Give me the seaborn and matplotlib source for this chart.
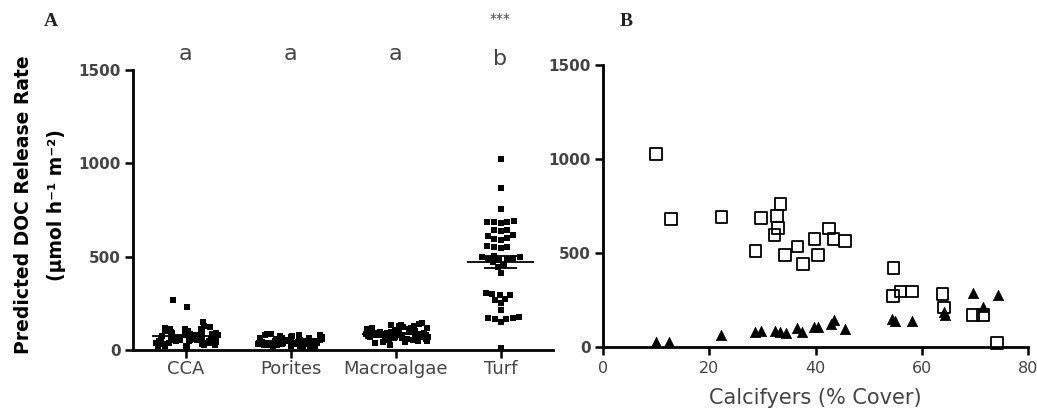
import numpy as np
import pandas as pd
import matplotlib
matplotlib.use("Agg")
import matplotlib.pyplot as plt
import matplotlib.transforms as mtransforms
import seaborn as sns

# ---------------- data ----------------
categories = ["CCA", "Porites", "Macroalgae", "Turf"]
sig_letters = ["a", "a", "a", "b"]

cca = [270, 230, 150, 128, 122, 118, 115, 112, 110, 106, 104, 100, 98, 96, 94,
       92, 90, 88, 86, 84, 82, 80, 78, 76, 74, 72, 70, 68, 66, 65, 64, 62, 60,
       58, 57, 56, 55, 54, 52, 51, 50, 48, 47, 46, 45, 44, 42, 40, 38, 36, 35,
       34, 32, 30, 28, 26, 24, 22, 20, 15]
porites = [88, 85, 82, 80, 78, 76, 74, 72, 70, 68, 66, 65, 64, 62, 60, 59, 58,
           56, 55, 54, 53, 52, 51, 50, 49, 48, 47, 46, 45, 44, 43, 42, 41, 40,
           39, 38, 37, 36, 35, 34, 33, 32, 31, 30, 29, 28, 27, 26, 25, 24, 22,
           20, 18, 15, 10]
macroalgae = [142, 138, 135, 132, 130, 128, 125, 122, 120, 118, 116, 114, 112,
              110, 108, 106, 105, 104, 102, 100, 98, 97, 96, 95, 94, 92, 91, 90,
              89, 88, 87, 86, 85, 84, 83, 82, 81, 80, 79, 78, 77, 76, 75, 74, 73,
              72, 71, 70, 69, 68, 67, 66, 65, 64, 62, 60, 58, 56, 54, 52, 50, 48,
              45, 42, 38, 25]
turf = [1025, 870, 755,
        690, 688, 686, 684, 682,
        645, 643, 640,
        615, 610, 600, 595, 590,
        555, 552, 550, 548,
        505, 500, 497, 494, 490, 487, 484,
        470, 458, 445,
        415,
        305, 300, 296, 294,
        275, 270,
        250, 212,
        175, 172, 170, 168, 166,
        152, 10]

cover_turf = [10.0, 12.8, 22.3, 28.7, 29.8, 32.3, 32.7, 33.0, 33.4, 34.3, 36.6,
              37.7, 39.8, 40.4, 42.6, 43.4, 45.6, 54.7, 54.6, 56.0, 58.1, 63.9,
              64.2, 69.6, 71.6, 74.1]
doc_turf = [1025, 680, 690, 510, 685, 595, 695, 635, 760, 490, 535, 440, 575,
            490, 630, 575, 565, 420, 270, 295, 295, 280, 210, 170, 170, 20]
cover_calc = [10.0, 12.4, 22.3, 28.6, 29.7, 32.4, 33.3, 34.5, 36.6, 37.5, 39.8,
              40.5, 42.9, 43.4, 45.5, 54.4, 55.0, 58.1, 64.1, 64.4, 69.6, 71.6,
              74.3]
doc_calc = [25, 25, 65, 78, 85, 85, 78, 72, 100, 78, 108, 108, 120, 145, 95,
            150, 140, 140, 185, 170, 285, 215, 275]

# ---------------- style ----------------
sns.set_theme(style="ticks")
plt.rcParams['font.family'] = ['DejaVu Sans']
GREY = "#444444"

W, H = 1037, 411
fig = plt.figure(figsize=(W / 100, H / 100), dpi=100)


def px_axes(left, right, top, bottom):
    return fig.add_axes([left / W, 1 - bottom / H, (right - left) / W, (bottom - top) / H])


axA = px_axes(133, 553, 70, 350)
axB = px_axes(603, 1028, 65, 347)

# ---------------- panel A ----------------
groups = [cca, porites, macroalgae, turf]
dfA = pd.DataFrame({
    "group": np.repeat(categories, [len(g) for g in groups]),
    "rate": np.concatenate(groups),
})

# pick a reproducible jitter state in which the few high CCA points sit near
# the centre of the column (as in the GraphPad original)
JIT = 0.31
seed = 0
for s in range(20000):
    rs = np.random.RandomState(s)
    u = rs.uniform(-JIT, JIT, size=len(cca))
    if abs(u[0] + 0.08) < 0.04 and abs(u[1]) < 0.04 and abs(u[2] - 0.16) < 0.05:
        seed = s
        break
np.random.seed(seed)
sns.stripplot(data=dfA[dfA["group"] != "Turf"], x="group", y="rate",
              order=categories, color="black", marker="s", size=4.5,
              linewidth=0, jitter=JIT, ax=axA)
sns.swarmplot(data=dfA[dfA["group"] == "Turf"], x="group", y="rate",
              order=categories, color="black", marker="s", size=4.5,
              linewidth=0, warn_thresh=1, ax=axA)
for coll in axA.collections:
    coll.set_clip_on(False)

for i, vals in enumerate(groups):
    v = np.asarray(vals, float)
    m = v.mean()
    se = v.std(ddof=1) / np.sqrt(len(v))
    axA.hlines(m, i - 0.32, i + 0.32, color="black", lw=1.3, zorder=5)
    axA.hlines([m - se, m + se], i - 0.16, i + 0.16, color="black", lw=1.3, zorder=5)
    axA.vlines(i, m - se, m + se, color="black", lw=1.3, zorder=5)

axA.set_xlim(-0.5, 3.5)
axA.set_ylim(0, 1500)
axA.set_yticks([0, 500, 1000, 1500])
axA.set_xlabel("")
axA.set_ylabel("")

blendA = mtransforms.blended_transform_factory(axA.transData, fig.transFigure)
for i, lab in enumerate(sig_letters):
    yb = 60 if lab == "a" else 65
    axA.text(i, 1 - yb / H, lab, transform=blendA, ha="center", va="baseline",
             fontsize=16, color=GREY)
axA.text(3, 1 - 19 / H, "***", transform=blendA, ha="center", va="center",
         fontsize=10, color=GREY)

# ---------------- panel B ----------------
sns.scatterplot(x=cover_turf, y=doc_turf, marker="s", s=72, color="black",
                linewidth=1.3, ax=axB)
axB.collections[-1].set_facecolor("none")
axB.collections[-1].set_edgecolor("black")
sns.scatterplot(x=cover_calc, y=doc_calc, marker="^", s=55, color="black",
                edgecolor="black", linewidth=0.5, ax=axB)
for coll in axB.collections:
    coll.set_clip_on(False)

axB.set_xlim(0, 80)
axB.set_ylim(0, 1500)
axB.set_xticks([0, 20, 40, 60, 80])
axB.set_yticks([0, 500, 1000, 1500])
axB.set_ylabel("")
axB.set_xlabel("")

# ---------------- axes styling ----------------
for ax in (axA, axB):
    sns.despine(ax=ax)
    for sp in ("left", "bottom"):
        ax.spines[sp].set_linewidth(2)
        ax.spines[sp].set_color("black")
    ax.tick_params(axis="both", direction="out", length=6, width=1.8,
                   color="black", labelcolor=GREY)
    for t in ax.get_yticklabels():
        t.set_fontweight("bold")
        t.set_fontsize(11)
    ax.tick_params(axis="y", pad=3)

axA.tick_params(axis="x", pad=1, labelsize=13)
axB.tick_params(axis="x", pad=4, labelsize=11.5)

# labels
fig.text(24 / W, 1 - 205 / H, "Predicted DOC Release Rate", rotation=90,
         ha="center", va="center", fontsize=13.5, fontweight="bold", color="black")
fig.text(57 / W, 1 - 205 / H, "(µmol h⁻¹ m⁻²)", rotation=90,
         ha="center", va="center", fontsize=13.5, fontweight="bold", color="black")
fig.text(815 / W, 1 - 398 / H, "Calcifyers (% Cover)", ha="center", va="center",
         fontsize=15, color=GREY)
fig.text(44 / W, 1 - 21 / H, "A", ha="left", va="center", fontsize=14,
         fontweight="bold", family="Liberation Serif", color="#222222")
fig.text(620 / W, 1 - 22 / H, "B", ha="left", va="center", fontsize=14,
         fontweight="bold", family="Liberation Serif", color="#222222")

fig.savefig("out.png", dpi=100)
